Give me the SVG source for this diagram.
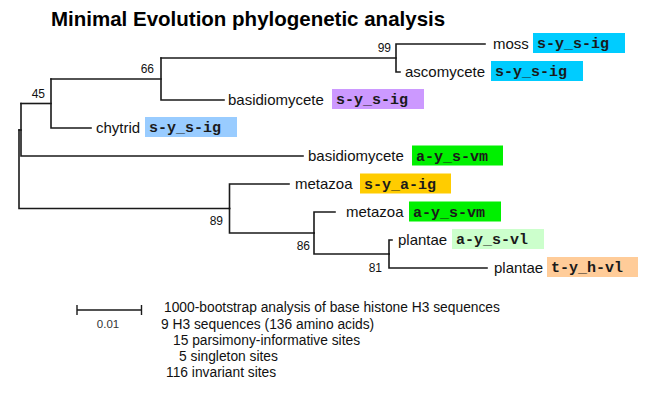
<svg xmlns="http://www.w3.org/2000/svg" width="650" height="393" viewBox="0 0 650 393">
<style>
.bg{fill:#ffffff}
.title{font-family:"Liberation Sans",Arial,sans-serif;font-weight:bold;font-size:20.5px;fill:#000}
.lbl{font-family:"Liberation Sans",Arial,sans-serif;font-size:15px;fill:#111}
.bs{font-family:"Liberation Sans",Arial,sans-serif;font-size:12px;fill:#111;text-anchor:end}
.seq{font-family:"Liberation Mono","Courier New",monospace;font-weight:bold;font-size:15px;fill:#1a1a1a}
.info{font-family:"Liberation Sans",Arial,sans-serif;font-size:13.8px;fill:#111}
.edge{fill:none;stroke:#1a1a1a;stroke-width:1.6;stroke-linecap:square}
.c1{fill:#00CCFF}.c2{fill:#CC99FF}.c3{fill:#99CCFF}.c4{fill:#00F000}.c5{fill:#FFCC00}.c6{fill:#CCFFCC}.c7{fill:#FFCC99}
</style>
<rect class="bg" x="0" y="0" width="650" height="393"/>
<text class="title" x="51" y="26">Minimal Evolution phylogenetic analysis</text>

<g id="connectors">
<path class="edge" d="M485,44H396V72H400"/>
<path class="edge" d="M396,58H161"/>
<path class="edge" d="M161,58V100H224"/>
<path class="edge" d="M161,79H51"/>
<path class="edge" d="M51,79V128H91"/>
<path class="edge" d="M51,103.5H21"/>
<path class="edge" d="M21,103.5V156H303"/>
<path class="edge" d="M21,130H19"/>
<path class="edge" d="M19,130V208.5H229.5"/>
<path class="edge" d="M229.5,208.5V184H289"/>
<path class="edge" d="M229.5,208.5V233H314"/>
<path class="edge" d="M314,233V212H335"/>
<path class="edge" d="M314,233V254H389"/>
<path class="edge" d="M389,254V240H392"/>
<path class="edge" d="M389,254V268H487"/>
</g>

<g id="node-99"><text class="bs" x="391" y="52">99</text></g>
<g id="node-66"><text class="bs" x="154" y="73">66</text></g>
<g id="node-45"><text class="bs" x="45" y="98">45</text></g>
<g id="node-89"><text class="bs" x="223" y="225">89</text></g>
<g id="node-86"><text class="bs" x="310" y="250">86</text></g>
<g id="node-81"><text class="bs" x="382" y="272">81</text></g>

<g id="leaf-moss">
<text class="lbl" x="493" y="49">moss</text>
<rect class="c1" x="533" y="33" width="92" height="20"/>
<text class="seq" x="537" y="48">s-y_s-ig</text>
</g>
<g id="leaf-ascomycete">
<text class="lbl" x="405" y="77">ascomycete</text>
<rect class="c1" x="491" y="61" width="92" height="20"/>
<text class="seq" x="495" y="76">s-y_s-ig</text>
</g>
<g id="leaf-basidiomycete-1">
<text class="lbl" x="228" y="105">basidiomycete</text>
<rect class="c2" x="332" y="89" width="92" height="20"/>
<text class="seq" x="336" y="104">s-y_s-ig</text>
</g>
<g id="leaf-chytrid">
<text class="lbl" x="96" y="133">chytrid</text>
<rect class="c3" x="145" y="117" width="92" height="20"/>
<text class="seq" x="149" y="132">s-y_s-ig</text>
</g>
<g id="leaf-basidiomycete-2">
<text class="lbl" x="308" y="161">basidiomycete</text>
<rect class="c4" x="412" y="145.5" width="91" height="20"/>
<text class="seq" x="416" y="160.5">a-y_s-vm</text>
</g>
<g id="leaf-metazoa-1">
<text class="lbl" x="295" y="189">metazoa</text>
<rect class="c5" x="360" y="173.5" width="91" height="20"/>
<text class="seq" x="364" y="188.5">s-y_a-ig</text>
</g>
<g id="leaf-metazoa-2">
<text class="lbl" x="346" y="217">metazoa</text>
<rect class="c4" x="409" y="201.5" width="92" height="20"/>
<text class="seq" x="413" y="216.5">a-y_s-vm</text>
</g>
<g id="leaf-plantae-1">
<text class="lbl" x="398" y="245">plantae</text>
<rect class="c6" x="452" y="229" width="92" height="20"/>
<text class="seq" x="456" y="244">a-y_s-vl</text>
</g>
<g id="leaf-plantae-2">
<text class="lbl" x="494" y="273">plantae</text>
<rect class="c7" x="547" y="257" width="91" height="20"/>
<text class="seq" x="551" y="272">t-y_h-vl</text>
</g>

<g id="scale-bar">
<path class="edge" d="M77,310H141.5M77,305V315M141.5,305V315" style="stroke-width:1.4;stroke-linecap:butt"/>
<text class="bs" x="108" y="328" style="text-anchor:middle;font-size:11.5px;fill:#333">0.01</text>
</g>

<g id="notes">
<text class="info" x="164" y="312">1000-bootstrap analysis of base histone H3 sequences</text>
<text class="info" x="161" y="329">9 H3 sequences (136 amino acids)</text>
<text class="info" x="173" y="345">15 parsimony-informative sites</text>
<text class="info" x="179" y="361">5 singleton sites</text>
<text class="info" x="166" y="377">116 invariant sites</text>
</g>
</svg>
